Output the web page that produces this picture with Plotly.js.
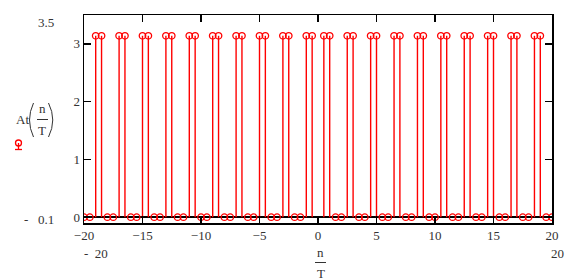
<!DOCTYPE html>
<html><head><meta charset="utf-8">
<script src="https://cdn.plot.ly/plotly-3.0.1.min.js"></script>
<style>html,body{margin:0;padding:0;background:#fff}</style>
</head><body><div id="chart" style="width:575px;height:280px"></div>
<script>
// sample positions n/T and values At(n/T)
const nOverT = [-20,-19.5,-19,-18.5,-18,-17.5,-17,-16.5,-16,-15.5,-15,-14.5,-14,-13.5,-13,-12.5,-12,-11.5,-11,-10.5,
  -10,-9.5,-9,-8.5,-8,-7.5,-7,-6.5,-6,-5.5,-5,-4.5,-4,-3.5,-3,-2.5,-2,-1.5,-1,-0.5,
  0.5,1,1.5,2,2.5,3,3.5,4,4.5,5,5.5,6,6.5,7,7.5,8,8.5,9,9.5,10,
  10.5,11,11.5,12,12.5,13,13.5,14,14.5,15,15.5,16,16.5,17,17.5,18,18.5,19,19.5,20];
const At = [0,0,3.14,3.14,0,0,3.14,3.14,0,0,3.14,3.14,0,0,3.14,3.14,0,0,3.14,3.14,
  0,0,3.14,3.14,0,0,3.14,3.14,0,0,3.14,3.14,0,0,3.14,3.14,0,0,3.14,3.14,
  3.14,3.14,0,0,3.14,3.14,0,0,3.14,3.14,0,0,3.14,3.14,0,0,3.14,3.14,0,0,
  3.14,3.14,0,0,3.14,3.14,0,0,3.14,3.14,0,0,3.14,3.14,0,0,3.14,3.14,0,0];
const xTicks = [-20,-15,-10,-5,0,5,10,15,20];
const yTicks = [0,1,2,3];
const xLimitLabels = ['- 20','20'];
const yLimitLabels = ['3.5','- 0.1'];

const RED = '#ff0000';
const FONT = 'Liberation Serif, Times New Roman, serif';
const TXT = '#333333';

const stemBase = At.map(() => 0);
const trace = {
  x: nOverT, y: At, type: 'scatter', mode: 'markers',
  marker: {symbol: 'circle-open', size: 6.5, color: RED, line: {width: 1.3, color: RED}},
  error_y: {type: 'data', symmetric: false, array: stemBase, arrayminus: At,
            width: 0, thickness: 1.4, color: RED},
  showlegend: false, hoverinfo: 'skip'
};

// pixel -> paper helpers (plot area 84..552 x 15..223)
const L = 84, Rr = 552, Tt = 15, Bb = 223;
const px = v => (v - L) / (Rr - L);
const py = v => (Bb - v) / (Bb - Tt);

function ann(text, x, y, xanchor, size) {
  return {text: text, xref: 'paper', yref: 'paper', x: px(x), y: py(y),
    xanchor: xanchor || 'center', yanchor: 'middle', showarrow: false,
    font: {family: FONT, size: size || 13, color: TXT}};
}
function line(x0, y0, x1, y1, color, w) {
  return {type: 'line', xref: 'paper', yref: 'paper', x0: px(x0), y0: py(y0), x1: px(x1), y1: py(y1),
    line: {color: color || TXT, width: w || 1}};
}
function pathShape(pts, color, w) {
  const p = 'M ' + px(pts[0]) + ',' + py(pts[1]) + ' Q ' + px(pts[2]) + ',' + py(pts[3]) + ' ' + px(pts[4]) + ',' + py(pts[5]);
  return {type: 'path', xref: 'paper', yref: 'paper', path: p, line: {color: color || TXT, width: w || 1}};
}

const annotations = [
  ann(yLimitLabels[0], 56, 23, 'right'),
  ann(yLimitLabels[1].replace(' ', '\u00a0\u00a0\u00a0'), 56, 219, 'right'),
  ann(xLimitLabels[0].replace(' ', '\u00a0\u00a0'), 82, 253, 'left'),
  ann(xLimitLabels[1], 549, 253, 'left'),
  // y title At(n/T)
  ann('At', 22, 119, 'center', 13),
  ann('n', 42.5, 109, 'center', 13),
  ann('T', 42, 130, 'center', 13),
  // x title n/T
  ann('n', 320.8, 252, 'center', 13),
  ann('T', 320.7, 273, 'center', 13)
];

const shapes = [
  line(37, 119.5, 48, 119.5, TXT, 1),
  line(315, 262.5, 326, 262.5, TXT, 1),
  pathShape([33.5, 103, 25.5, 120, 33.5, 137], TXT, 1),
  pathShape([48.5, 103, 57, 120, 48.5, 137], TXT, 1),
  // legend symbol
  {type: 'circle', xref: 'paper', yref: 'paper', x0: px(15.5), x1: px(21.5), y0: py(146), y1: py(140),
   line: {color: RED, width: 1.3}},
  line(18.5, 143, 18.5, 149.5, RED, 1.3),
  line(15, 149.5, 22, 149.5, RED, 1.3)
];

const axisCommon = {
  ticks: 'inside', tickcolor: '#000', tickwidth: 1.5, ticklen: 7,
  showline: true, linecolor: '#000', linewidth: 1.5, mirror: 'ticks',
  showgrid: false, tickfont: {family: FONT, size: 13, color: TXT}
};

const layout = {
  width: 575, height: 280,
  margin: {l: L, r: 575 - Rr, t: Tt, b: 280 - Bb},
  paper_bgcolor: '#fff', plot_bgcolor: '#fff',
  showlegend: false,
  xaxis: Object.assign({}, axisCommon, {range: [-20, 20], tickmode: 'array', tickvals: xTicks, zeroline: false}),
  yaxis: Object.assign({}, axisCommon, {range: [-0.1, 3.5], tickmode: 'array', tickvals: yTicks,
    zeroline: true, zerolinecolor: '#000', zerolinewidth: 1.5}),
  annotations: annotations,
  shapes: shapes
};

Plotly.newPlot('chart', [trace], layout, {staticPlot: true, displayModeBar: false});
</script>
</body></html>
